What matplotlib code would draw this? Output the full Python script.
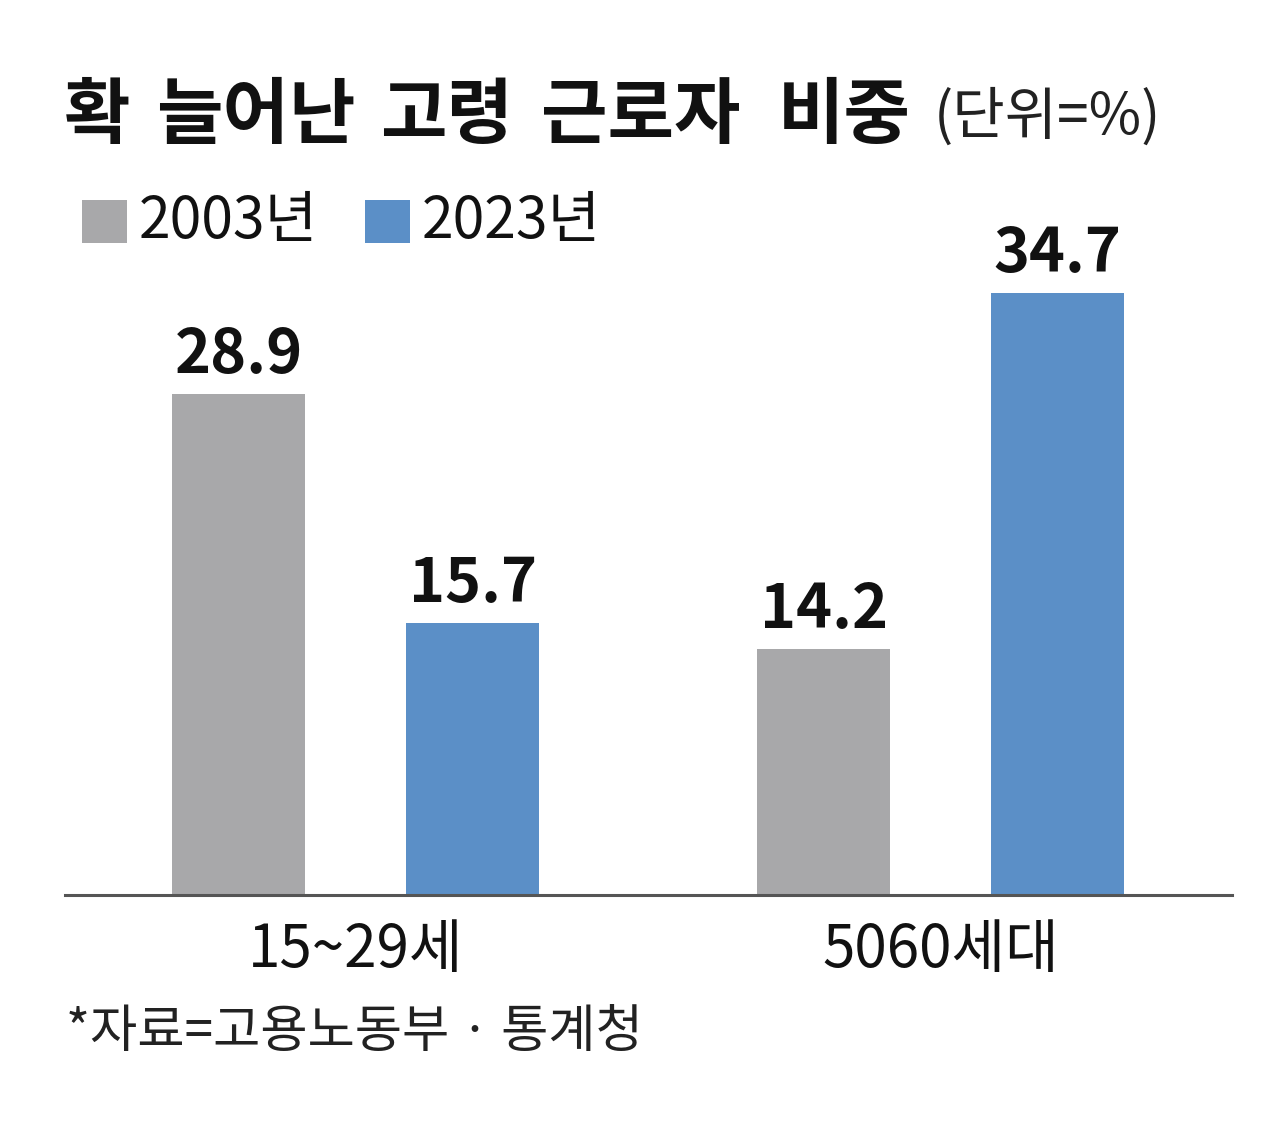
import matplotlib.pyplot as plt
from matplotlib.patches import Rectangle

# data
groups = ['15~29세', '5060세대']
years = ['2003년', '2023년']
v2003 = [28.9, 14.2]
v2023 = [15.7, 34.7]
colors = ['#a8a8aa', '#5b8fc7']
title_words = ['확', '늘어난', '고령', '근로자', '비중']

W, H = 1280, 1123
plt.rcParams['font.family'] = ['Noto Sans CJK KR', 'DejaVu Sans']

fig = plt.figure(figsize=(W / 100, H / 100), dpi=100)
fig.patch.set_facecolor('white')

def fx(px):
    return px / W

def fy(py):
    return 1 - py / H

# axes: baseline at y=895, top at y=200
ax = fig.add_axes([fx(65), fy(895), fx(1232) - fx(65), fy(200) - fy(895)])
ax.set_ylim(0, 40.08)
ax.set_xlim(-0.4966, 1.498)

xs = [0, 1]
off = 0.2
bw = 0.227
for vals, c, d in [(v2003, colors[0], -off), (v2023, colors[1], off)]:
    pos = [x + d for x in xs]
    ax.bar(pos, vals, width=bw, color=c, zorder=2)
    for p, v in zip(pos, vals):
        ax.annotate(f'{v:.1f}', (p, v), xytext=(0, 15), textcoords='offset points',
                    ha='center', va='baseline', fontsize=44, fontweight='bold',
                    color='#111111')

for s in ['top', 'right', 'left']:
    ax.spines[s].set_visible(False)
ax.spines['bottom'].set_color('#555555')
ax.spines['bottom'].set_linewidth(2.2)
ax.set_yticks([])
ax.set_xticks(xs)
ax.set_xticklabels(groups, fontsize=42, color='#111111')
ax.tick_params(axis='x', length=0, pad=18)

# title, word by word
for x0, w in zip([64, 156, 380, 541, 778], title_words):
    fig.text(fx(x0), fy(117), w, fontsize=52, fontweight='bold',
             ha='left', va='center', color='#111111')
fig.text(fx(934), fy(117), '(단위=%)', fontsize=41, ha='left', va='center',
         color='#222222')

# legend
for x0, c, lab in [(82, colors[0], years[0]), (365, colors[1], years[1])]:
    fig.patches.append(Rectangle((fx(x0), fy(243)), fx(45), fy(200) - fy(243),
                                 transform=fig.transFigure, facecolor=c, edgecolor='none'))
    fig.text(fx(x0 + 57), fy(222), lab, fontsize=41, ha='left', va='center',
             color='#111111')

# source
fig.text(fx(66), fy(1032), '*자료=고용노동부 · 통계청', fontsize=37, ha='left', va='center',
         color='#222222')

fig.savefig('out.png', dpi=100)
